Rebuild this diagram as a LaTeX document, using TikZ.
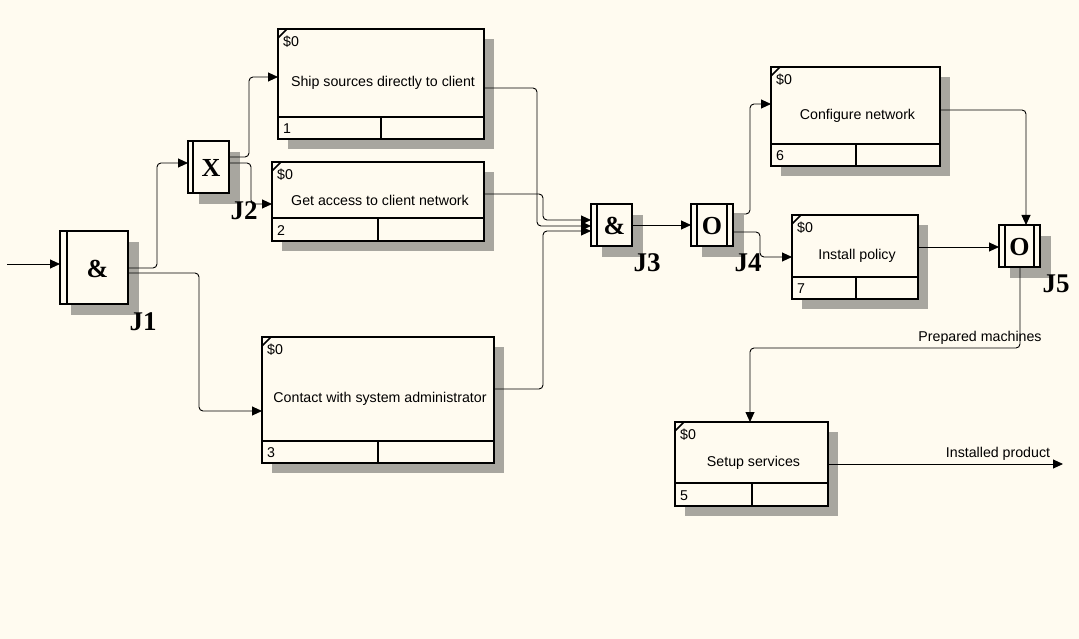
\documentclass[tikz,border=0pt]{standalone}
\usepackage{fontspec}
\setmainfont{Liberation Sans}
\newfontfamily\jfont{Liberation Serif}
\usetikzlibrary{arrows.meta}
\definecolor{bgc}{RGB}{255,251,240}
\definecolor{shc}{RGB}{168,166,159}
\tikzset{
  uob/.style={draw, line width=2pt, fill=bgc, inner sep=0pt, outer sep=0pt, rectangle},
  uobline/.style={line width=2pt},
  shadowfill/.style={fill=shc},
  txt/.style={font=\fontsize{14.2}{16}\selectfont, inner sep=0pt},
  jlabel/.style={font=\fontsize{27}{29}\selectfont\jfont\bfseries, inner sep=0pt},
  jsym/.style={font=\fontsize{26}{28}\selectfont\jfont\bfseries, inner sep=0pt},
  conn/.style={line width=0.9pt, rounded corners=4pt, -{Triangle[length=10pt,width=9pt]}},
}
% #1 name #2 left #3 top #4 right #5 bottom #6 divider y #7 vertical x #8 title #9 number
\newcommand\uobox[9]{%
  \fill[shadowfill] (#2+10,#3+10) rectangle (#4+10,#5+10);
  \pgfmathsetmacro\uw{#4-#2}\pgfmathsetmacro\uh{#5-#3}%
  \node[uob, minimum width=\uw pt, minimum height=\uh pt, anchor=north west] (#1) at (#2,#3) {};
  \draw[uobline] (#2,#6) -- (#4,#6);
  \draw[uobline] (#7,#6) -- (#7,#5);
  \draw[line width=1.6pt] (#2,#3+9) -- (#2+9,#3);
  \node[txt, anchor=west] at (#2+5,#3+13) {\$0};
  \node[txt, anchor=west] at (#2+5,{(#6+#5)/2+1}) {#9};
  \node[txt] at ({(#2+#4)/2+2},{(#3+#6)/2+10}) {#8};
}
% #1 name #2 left #3 top #4 right #5 bottom #6 symbol #7 left inner offset #8 right inner offset (0 = none)
\newcommand\junc[8]{%
  \fill[shadowfill] (#2+11,#3+11) rectangle (#4+11,#5+11);
  \pgfmathsetmacro\uw{#4-#2}\pgfmathsetmacro\uh{#5-#3}%
  \node[uob, minimum width=\uw pt, minimum height=\uh pt, anchor=north west] (#1) at (#2,#3) {};
  \draw[uobline] (#2+#7,#3) -- (#2+#7,#5);
  \ifnum#8>0 \draw[uobline] (#4-#8,#3) -- (#4-#8,#5);\fi
  \node[jsym] at ({(#2+#7+#4-#8)/2},{(#3+#5)/2+1}) {#6};
}
\begin{document}
\begin{tikzpicture}[x=1pt,y=-1pt]
\useasboundingbox (0,0) rectangle (1079,639);
\fill[bgc] (0,0) rectangle (1079,639);

% boxes
\uobox{B1}{278}{29}{484}{139}{117}{381}{Ship sources directly to client}{1}
\uobox{B2}{272}{162}{484}{241}{218}{378}{Get access to client network}{2}
\uobox{B3}{262}{337}{494}{463}{441}{378}{Contact with system administrator}{3}
\uobox{B6}{771}{67}{940}{166}{144}{856}{Configure network}{6}
\uobox{B7}{792}{215}{918}{299}{277}{856}{Install policy}{7}
\uobox{B5}{675}{422}{828}{506}{483}{752}{Setup services}{5}

% junctions
\junc{J1}{60}{231}{128}{304}{\&}{7}{0}
\junc{J2}{188}{141}{229}{193}{X}{5}{0}
\junc{J3}{591}{204}{632}{246}{\&}{6}{0}
\junc{J4}{691}{204}{733}{246}{O}{6}{6}
\junc{J5}{999}{225}{1040}{267}{O}{6}{6}

\node[jlabel] (L1) at (143,322) {J1};
\node[jlabel] (L2) at (244,211) {J2};
\node[jlabel] (L3) at (647,263) {J3};
\node[jlabel] (L4) at (748,263) {J4};
\node[jlabel] (L5) at (1056,284) {J5};

% connectors
\coordinate (src) at (7,264);
\coordinate (out) at (1063,464);
\draw[conn] (src) -- (J1.west |- 0,264);
\draw[conn] (J1.east |- 0,268) -- (157,268) -- (157,163) -- (J2.west |- 0,163);
\draw[conn] (J1.east |- 0,273) -- (199,273) -- (199,411) -- (B3.west |- 0,411);
\draw[conn] (J2.east |- 0,157) -- (249,157) -- (249,77) -- (B1.west |- 0,77);
\draw[conn] (J2.east |- 0,163) -- (251,163) -- (251,204) -- (B2.west |- 0,204);
\draw[conn] (B1.east |- 0,88) -- (537,88) -- (537,226) -- (J3.west |- 0,226);
\draw[conn] (B2.east |- 0,194) -- (543,194) -- (543,220) -- (J3.west |- 0,220);
\draw[conn] (B3.east |- 0,389) -- (543,389) -- (543,231) -- (J3.west |- 0,231);
\draw[conn] (J3.east |- 0,225) -- (J4.west |- 0,225);
\draw[conn] (J4.east |- 0,214) -- (750,214) -- (750,104) -- (B6.west |- 0,104);
\draw[conn] (J4.east |- 0,232) -- (760,232) -- (760,257) -- (B7.west |- 0,257);
\draw[conn] (B6.east |- 0,110) -- (1026,110) -- (J5.north -| 1026,0);
\draw[conn] (B7.east |- 0,247) -- (J5.west |- 0,247);
\draw[conn] (J5.south -| 1020,0) -- (1020,348) -- (750,348) -- (B5.north -| 750,0);
\draw[conn] (B5.east |- 0,464) -- (out);

\node[txt] (pm) at (980,338) {Prepared machines};
\node[txt] (ip) at (998,454) {Installed product};
\end{tikzpicture}
\end{document}
